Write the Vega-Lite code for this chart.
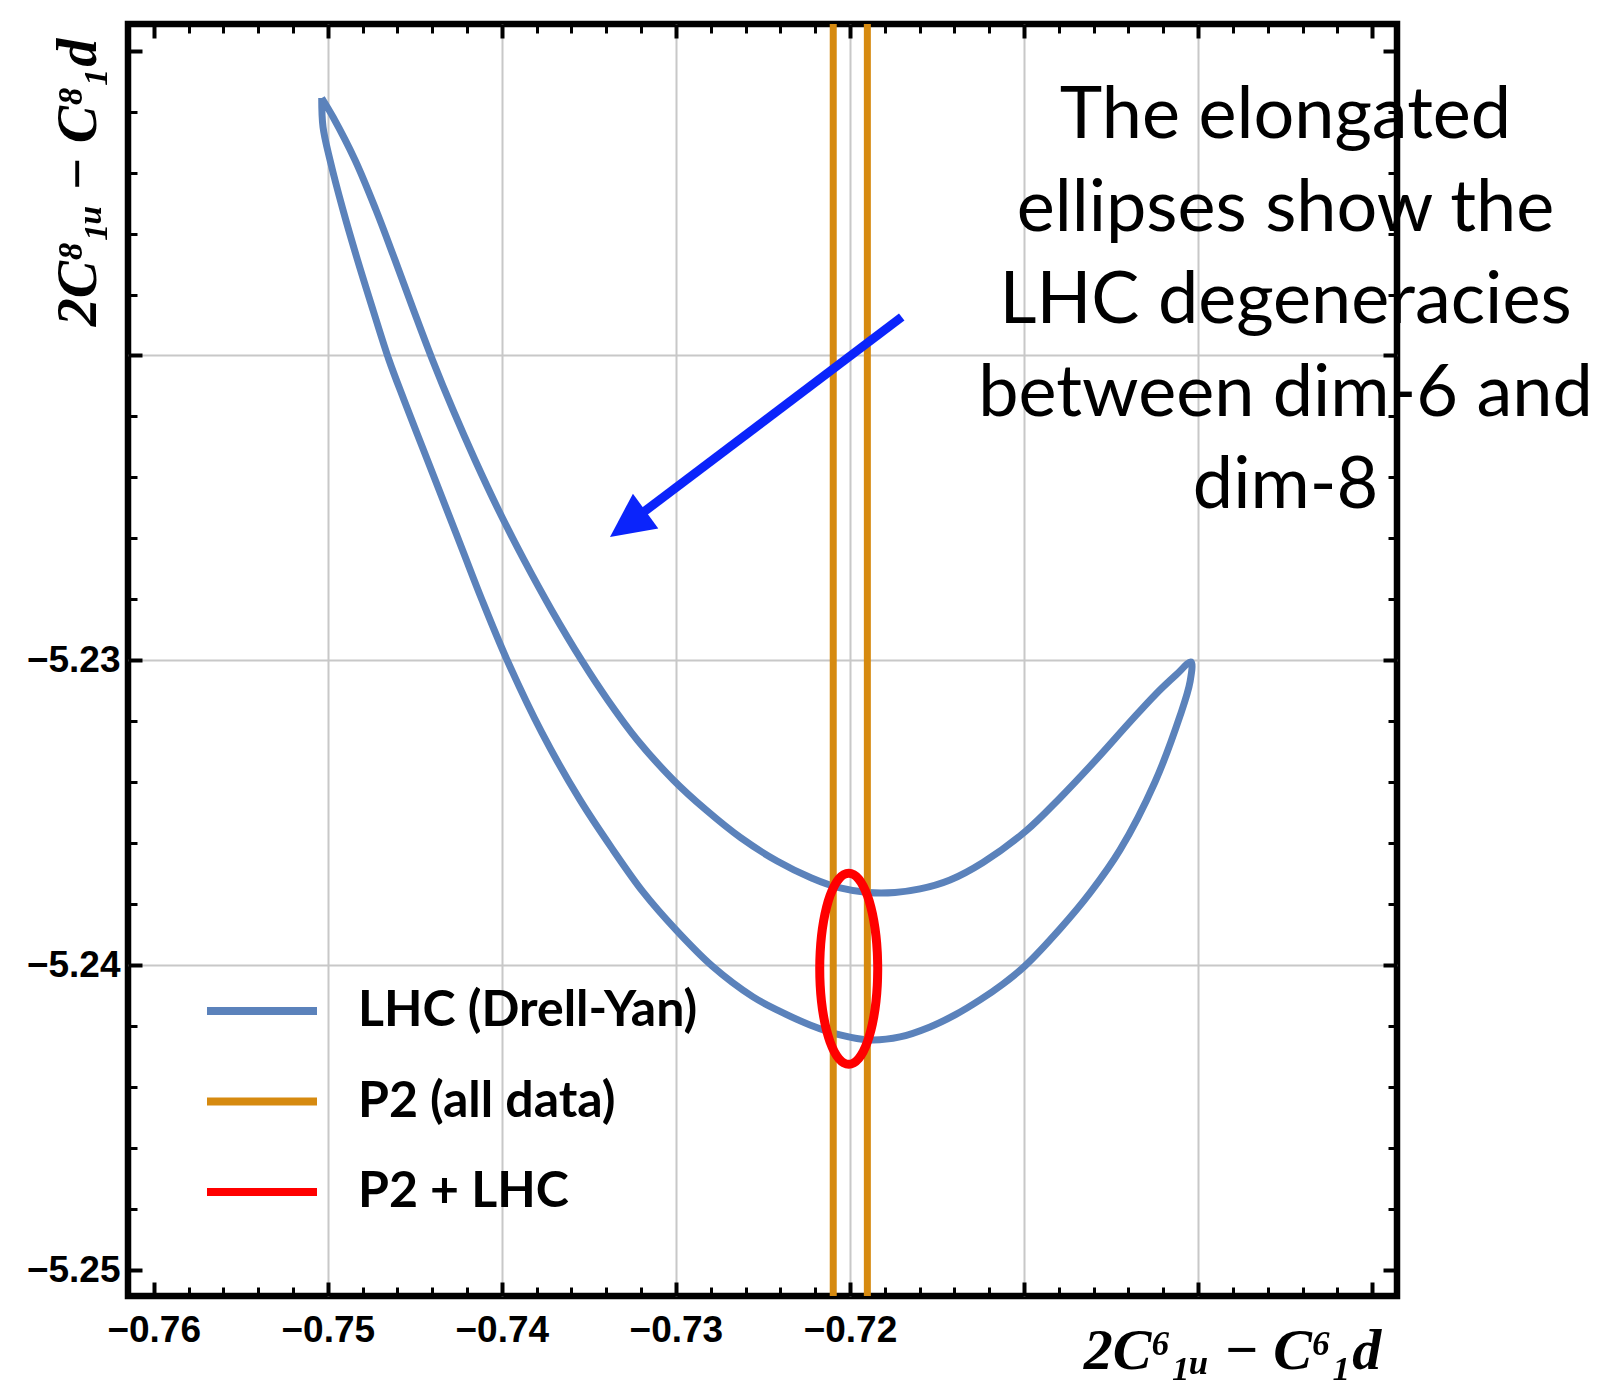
{
  "$schema": "https://vega.github.io/schema/vega-lite/v6.json",
  "width": 1269,
  "height": 1272,
  "autosize": {"type": "none"},
  "padding": {"left": 128, "top": 24, "right": 206, "bottom": 90},
  "background": "white",
  "view": {"stroke": "black", "strokeWidth": 6.5, "fill": "white"},
  "datasets": {
    "lhc": [
      {"i": 0, "x": -0.750348, "y": -5.211557, "series": "LHC (Drell-Yan)"},
      {"i": 1, "x": -0.750273, "y": -5.212508, "series": "LHC (Drell-Yan)"},
      {"i": 2, "x": -0.749871, "y": -5.213590, "series": "LHC (Drell-Yan)"},
      {"i": 3, "x": -0.749124, "y": -5.215230, "series": "LHC (Drell-Yan)"},
      {"i": 4, "x": -0.748291, "y": -5.216869, "series": "LHC (Drell-Yan)"},
      {"i": 5, "x": -0.747401, "y": -5.218508, "series": "LHC (Drell-Yan)"},
      {"i": 6, "x": -0.746482, "y": -5.220148, "series": "LHC (Drell-Yan)"},
      {"i": 7, "x": -0.745620, "y": -5.221459, "series": "LHC (Drell-Yan)"},
      {"i": 8, "x": -0.744500, "y": -5.223098, "series": "LHC (Drell-Yan)"},
      {"i": 9, "x": -0.743379, "y": -5.224738, "series": "LHC (Drell-Yan)"},
      {"i": 10, "x": -0.742259, "y": -5.226377, "series": "LHC (Drell-Yan)"},
      {"i": 11, "x": -0.741139, "y": -5.228016, "series": "LHC (Drell-Yan)"},
      {"i": 12, "x": -0.739674, "y": -5.230016, "series": "LHC (Drell-Yan)"},
      {"i": 13, "x": -0.737692, "y": -5.232377, "series": "LHC (Drell-Yan)"},
      {"i": 14, "x": -0.735508, "y": -5.234574, "series": "LHC (Drell-Yan)"},
      {"i": 15, "x": -0.733612, "y": -5.236213, "series": "LHC (Drell-Yan)"},
      {"i": 16, "x": -0.731889, "y": -5.237590, "series": "LHC (Drell-Yan)"},
      {"i": 17, "x": -0.729993, "y": -5.238836, "series": "LHC (Drell-Yan)"},
      {"i": 18, "x": -0.727925, "y": -5.240016, "series": "LHC (Drell-Yan)"},
      {"i": 19, "x": -0.725569, "y": -5.241033, "series": "LHC (Drell-Yan)"},
      {"i": 20, "x": -0.724018, "y": -5.241508, "series": "LHC (Drell-Yan)"},
      {"i": 21, "x": -0.722295, "y": -5.241951, "series": "LHC (Drell-Yan)"},
      {"i": 22, "x": -0.720571, "y": -5.242279, "series": "LHC (Drell-Yan)"},
      {"i": 23, "x": -0.718847, "y": -5.242443, "series": "LHC (Drell-Yan)"},
      {"i": 24, "x": -0.717124, "y": -5.242344, "series": "LHC (Drell-Yan)"},
      {"i": 25, "x": -0.715400, "y": -5.242016, "series": "LHC (Drell-Yan)"},
      {"i": 26, "x": -0.713964, "y": -5.241623, "series": "LHC (Drell-Yan)"},
      {"i": 27, "x": -0.712528, "y": -5.241131, "series": "LHC (Drell-Yan)"},
      {"i": 28, "x": -0.711206, "y": -5.240607, "series": "LHC (Drell-Yan)"},
      {"i": 29, "x": -0.709942, "y": -5.240016, "series": "LHC (Drell-Yan)"},
      {"i": 30, "x": -0.707932, "y": -5.238803, "series": "LHC (Drell-Yan)"},
      {"i": 31, "x": -0.706208, "y": -5.237623, "series": "LHC (Drell-Yan)"},
      {"i": 32, "x": -0.704485, "y": -5.236213, "series": "LHC (Drell-Yan)"},
      {"i": 33, "x": -0.702474, "y": -5.233984, "series": "LHC (Drell-Yan)"},
      {"i": 34, "x": -0.701038, "y": -5.231820, "series": "LHC (Drell-Yan)"},
      {"i": 35, "x": -0.700463, "y": -5.230705, "series": "LHC (Drell-Yan)"},
      {"i": 36, "x": -0.700406, "y": -5.230049, "series": "LHC (Drell-Yan)"},
      {"i": 37, "x": -0.701267, "y": -5.230475, "series": "LHC (Drell-Yan)"},
      {"i": 38, "x": -0.702474, "y": -5.231131, "series": "LHC (Drell-Yan)"},
      {"i": 39, "x": -0.703910, "y": -5.232016, "series": "LHC (Drell-Yan)"},
      {"i": 40, "x": -0.705921, "y": -5.233295, "series": "LHC (Drell-Yan)"},
      {"i": 41, "x": -0.707932, "y": -5.234508, "series": "LHC (Drell-Yan)"},
      {"i": 42, "x": -0.709885, "y": -5.235590, "series": "LHC (Drell-Yan)"},
      {"i": 43, "x": -0.712356, "y": -5.236623, "series": "LHC (Drell-Yan)"},
      {"i": 44, "x": -0.714251, "y": -5.237197, "series": "LHC (Drell-Yan)"},
      {"i": 45, "x": -0.715975, "y": -5.237492, "series": "LHC (Drell-Yan)"},
      {"i": 46, "x": -0.717411, "y": -5.237607, "series": "LHC (Drell-Yan)"},
      {"i": 47, "x": -0.718962, "y": -5.237607, "series": "LHC (Drell-Yan)"},
      {"i": 48, "x": -0.720571, "y": -5.237459, "series": "LHC (Drell-Yan)"},
      {"i": 49, "x": -0.722208, "y": -5.237131, "series": "LHC (Drell-Yan)"},
      {"i": 50, "x": -0.724190, "y": -5.236574, "series": "LHC (Drell-Yan)"},
      {"i": 51, "x": -0.726259, "y": -5.235820, "series": "LHC (Drell-Yan)"},
      {"i": 52, "x": -0.728270, "y": -5.234902, "series": "LHC (Drell-Yan)"},
      {"i": 53, "x": -0.730148, "y": -5.233918, "series": "LHC (Drell-Yan)"},
      {"i": 54, "x": -0.732216, "y": -5.232607, "series": "LHC (Drell-Yan)"},
      {"i": 55, "x": -0.733917, "y": -5.231295, "series": "LHC (Drell-Yan)"},
      {"i": 56, "x": -0.735393, "y": -5.230016, "series": "LHC (Drell-Yan)"},
      {"i": 57, "x": -0.737146, "y": -5.228344, "series": "LHC (Drell-Yan)"},
      {"i": 58, "x": -0.738726, "y": -5.226705, "series": "LHC (Drell-Yan)"},
      {"i": 59, "x": -0.740191, "y": -5.225066, "series": "LHC (Drell-Yan)"},
      {"i": 60, "x": -0.741541, "y": -5.223426, "series": "LHC (Drell-Yan)"},
      {"i": 61, "x": -0.742805, "y": -5.221787, "series": "LHC (Drell-Yan)"},
      {"i": 62, "x": -0.743983, "y": -5.220148, "series": "LHC (Drell-Yan)"},
      {"i": 63, "x": -0.745074, "y": -5.218508, "series": "LHC (Drell-Yan)"},
      {"i": 64, "x": -0.746137, "y": -5.216869, "series": "LHC (Drell-Yan)"},
      {"i": 65, "x": -0.747229, "y": -5.215230, "series": "LHC (Drell-Yan)"},
      {"i": 66, "x": -0.748435, "y": -5.213590, "series": "LHC (Drell-Yan)"},
      {"i": 67, "x": -0.749699, "y": -5.212180, "series": "LHC (Drell-Yan)"},
      {"i": 68, "x": -0.750348, "y": -5.211557, "series": "LHC (Drell-Yan)"}
    ],
    "combined": [
      {"i": 0, "x": -0.718404, "y": -5.240110, "series": "P2 + LHC"},
      {"i": 1, "x": -0.718429, "y": -5.239566, "series": "P2 + LHC"},
      {"i": 2, "x": -0.718504, "y": -5.239038, "series": "P2 + LHC"},
      {"i": 3, "x": -0.718627, "y": -5.238543, "series": "P2 + LHC"},
      {"i": 4, "x": -0.718794, "y": -5.238095, "series": "P2 + LHC"},
      {"i": 5, "x": -0.718999, "y": -5.237709, "series": "P2 + LHC"},
      {"i": 6, "x": -0.719237, "y": -5.237396, "series": "P2 + LHC"},
      {"i": 7, "x": -0.719500, "y": -5.237165, "series": "P2 + LHC"},
      {"i": 8, "x": -0.719781, "y": -5.237024, "series": "P2 + LHC"},
      {"i": 9, "x": -0.720070, "y": -5.236976, "series": "P2 + LHC"},
      {"i": 10, "x": -0.720359, "y": -5.237024, "series": "P2 + LHC"},
      {"i": 11, "x": -0.720640, "y": -5.237165, "series": "P2 + LHC"},
      {"i": 12, "x": -0.720903, "y": -5.237396, "series": "P2 + LHC"},
      {"i": 13, "x": -0.721141, "y": -5.237709, "series": "P2 + LHC"},
      {"i": 14, "x": -0.721346, "y": -5.238095, "series": "P2 + LHC"},
      {"i": 15, "x": -0.721513, "y": -5.238543, "series": "P2 + LHC"},
      {"i": 16, "x": -0.721636, "y": -5.239038, "series": "P2 + LHC"},
      {"i": 17, "x": -0.721711, "y": -5.239566, "series": "P2 + LHC"},
      {"i": 18, "x": -0.721736, "y": -5.240110, "series": "P2 + LHC"},
      {"i": 19, "x": -0.721711, "y": -5.240654, "series": "P2 + LHC"},
      {"i": 20, "x": -0.721636, "y": -5.241182, "series": "P2 + LHC"},
      {"i": 21, "x": -0.721513, "y": -5.241677, "series": "P2 + LHC"},
      {"i": 22, "x": -0.721346, "y": -5.242125, "series": "P2 + LHC"},
      {"i": 23, "x": -0.721141, "y": -5.242511, "series": "P2 + LHC"},
      {"i": 24, "x": -0.720903, "y": -5.242824, "series": "P2 + LHC"},
      {"i": 25, "x": -0.720640, "y": -5.243055, "series": "P2 + LHC"},
      {"i": 26, "x": -0.720359, "y": -5.243196, "series": "P2 + LHC"},
      {"i": 27, "x": -0.720070, "y": -5.243244, "series": "P2 + LHC"},
      {"i": 28, "x": -0.719781, "y": -5.243196, "series": "P2 + LHC"},
      {"i": 29, "x": -0.719500, "y": -5.243055, "series": "P2 + LHC"},
      {"i": 30, "x": -0.719237, "y": -5.242824, "series": "P2 + LHC"},
      {"i": 31, "x": -0.718999, "y": -5.242511, "series": "P2 + LHC"},
      {"i": 32, "x": -0.718794, "y": -5.242125, "series": "P2 + LHC"},
      {"i": 33, "x": -0.718627, "y": -5.241677, "series": "P2 + LHC"},
      {"i": 34, "x": -0.718504, "y": -5.241182, "series": "P2 + LHC"},
      {"i": 35, "x": -0.718429, "y": -5.240654, "series": "P2 + LHC"},
      {"i": 36, "x": -0.718404, "y": -5.240110, "series": "P2 + LHC"}
    ],
    "p2": [
      {"x": -0.72096, "series": "P2 (all data)"},
      {"x": -0.71900, "series": "P2 (all data)"}
    ],
    "arrow": [
      {"x": -0.717026, "y": -5.218738, "x2": -0.732762, "y2": -5.225525}
    ],
    "head": [
      {"x": -0.733785, "y": -5.225951}
    ],
    "note": [
      {"x": -0.694977, "y": -5.212869, "text": "The elongated\nellipses show the\nLHC degeneracies\nbetween dim-6 and\ndim-8"}
    ]
  },
  "layer": [
    {
      "data": {"name": "lhc"},
      "mark": {"type": "line", "strokeWidth": 7, "strokeJoin": "round", "interpolate": "catmull-rom"},
      "encoding": {
        "x": {
          "field": "x", "type": "quantitative",
          "scale": {"domain": [-0.761477, -0.688571], "nice": false, "zero": false},
          "axis": {
            "orient": "bottom",
            "values": [-0.76, -0.75, -0.74, -0.73, -0.72, -0.71, -0.70, -0.69],
            "format": ".2f",
            "labelExpr": "datum.value > -0.715 ? '' : datum.label",
            "tickSize": -14, "tickWidth": 4, "labelPadding": 30,
            "grid": true,
            "gridOpacity": {"condition": {"test": "datum.value < -0.755 || datum.value > -0.695", "value": 0}, "value": 1},
            "title": "2C⁶₁ᵤ − C⁶₁d",
            "titleFont": "Liberation Serif", "titleFontStyle": "italic", "titleFontWeight": "bold", "titleFontSize": 58,
            "titleX": 1104, "titleY": 72, "titleAlign": "center", "titleBaseline": "alphabetic", "titleAngle": 0, "titleColor": "black"
          }
        },
        "y": {
          "field": "y", "type": "quantitative",
          "scale": {"domain": [-5.25084, -5.20913], "nice": false, "zero": false},
          "axis": {
            "orient": "left",
            "values": [-5.25, -5.24, -5.23, -5.22, -5.21],
            "format": ".2f",
            "labelExpr": "datum.value > -5.225 ? '' : datum.label",
            "tickSize": -14, "tickWidth": 4, "labelPadding": 22,
            "grid": true,
            "gridOpacity": {"condition": {"test": "datum.value < -5.245 || datum.value > -5.215", "value": 0}, "value": 1},
            "title": "2C⁸₁ᵤ − C⁸₁d",
            "titleFont": "Liberation Serif", "titleFontStyle": "italic", "titleFontWeight": "bold", "titleFontSize": 56,
            "titleAngle": -90, "titleX": -33, "titleY": 158, "titleAlign": "center", "titleBaseline": "alphabetic", "titleColor": "black"
          }
        },
        "order": {"field": "i", "type": "quantitative"},
        "color": {
          "field": "series", "type": "nominal",
          "scale": {"domain": ["LHC (Drell-Yan)", "P2 (all data)", "P2 + LHC"], "range": ["#5b82bb", "#d68a10", "#ff0000"]},
          "legend": {
            "orient": "none", "legendX": 75, "legendY": 928,
            "title": null, "padding": 0, "offset": 0,
            "symbolType": "stroke", "symbolSize": 12100, "symbolStrokeWidth": 8,
            "labelFont": "Lato", "labelFontWeight": "bold", "labelFontSize": 50, "labelColor": "black",
            "labelOffset": 37, "labelLimit": 0, "rowPadding": 6.5
          }
        }
      }
    },
    {
      "data": {"name": "p2"},
      "mark": {"type": "rule", "strokeWidth": 7},
      "encoding": {
        "x": {"field": "x", "type": "quantitative", "scale": {"domain": [-0.761477, -0.688571], "nice": false, "zero": false}, "axis": null},
        "color": {"field": "series", "type": "nominal", "scale": {"domain": ["LHC (Drell-Yan)", "P2 (all data)", "P2 + LHC"], "range": ["#5b82bb", "#d68a10", "#ff0000"]}}
      }
    },
    {
      "data": {"name": "combined"},
      "mark": {"type": "line", "strokeWidth": 9, "strokeJoin": "round", "interpolate": "catmull-rom"},
      "encoding": {
        "x": {
          "field": "x", "type": "quantitative",
          "scale": {"domain": [-0.761477, -0.688571], "nice": false, "zero": false},
          "axis": {
            "orient": "bottom",
            "values": [-0.758, -0.756, -0.754, -0.752, -0.748, -0.746, -0.744, -0.742, -0.738, -0.736, -0.734, -0.732, -0.728, -0.726, -0.724, -0.722, -0.718, -0.716, -0.714, -0.712, -0.708, -0.706, -0.704, -0.702, -0.698, -0.696, -0.694, -0.692],
            "labels": false, "grid": false, "tickSize": -9, "tickWidth": 3, "title": null
          }
        },
        "y": {
          "field": "y", "type": "quantitative",
          "scale": {"domain": [-5.25084, -5.20913], "nice": false, "zero": false},
          "axis": {
            "orient": "left",
            "values": [-5.248, -5.246, -5.244, -5.242, -5.238, -5.236, -5.234, -5.232, -5.228, -5.226, -5.224, -5.222, -5.218, -5.216, -5.214, -5.212],
            "labels": false, "grid": false, "tickSize": -9, "tickWidth": 3, "title": null
          }
        },
        "order": {"field": "i", "type": "quantitative"},
        "color": {"field": "series", "type": "nominal", "scale": {"domain": ["LHC (Drell-Yan)", "P2 (all data)", "P2 + LHC"], "range": ["#5b82bb", "#d68a10", "#ff0000"]}}
      }
    },
    {
      "data": {"name": "arrow"},
      "mark": {"type": "rule", "strokeWidth": 9, "color": "#0b24fb"},
      "encoding": {
        "x": {
          "field": "x", "type": "quantitative",
          "scale": {"domain": [-0.761477, -0.688571], "nice": false, "zero": false},
          "axis": {
            "orient": "top",
            "values": [-0.76, -0.75, -0.74, -0.73, -0.72, -0.71, -0.70, -0.69],
            "labels": false, "grid": false, "tickSize": -14, "tickWidth": 4, "title": null
          }
        },
        "y": {
          "field": "y", "type": "quantitative",
          "scale": {"domain": [-5.25084, -5.20913], "nice": false, "zero": false},
          "axis": {
            "orient": "right",
            "values": [-5.25, -5.24, -5.23, -5.22, -5.21],
            "labels": false, "grid": false, "tickSize": -14, "tickWidth": 4, "title": null
          }
        },
        "x2": {"field": "x2"},
        "y2": {"field": "y2"}
      }
    },
    {
      "data": {"name": "head"},
      "mark": {"type": "point", "filled": true, "color": "#0b24fb", "opacity": 1, "strokeWidth": 0, "shape": "M0,0L0.49,1L-0.49,1Z", "size": 7744, "angle": 234},
      "encoding": {
        "x": {
          "field": "x", "type": "quantitative",
          "scale": {"domain": [-0.761477, -0.688571], "nice": false, "zero": false},
          "axis": {
            "orient": "top",
            "values": [-0.758, -0.756, -0.754, -0.752, -0.748, -0.746, -0.744, -0.742, -0.738, -0.736, -0.734, -0.732, -0.728, -0.726, -0.724, -0.722, -0.718, -0.716, -0.714, -0.712, -0.708, -0.706, -0.704, -0.702, -0.698, -0.696, -0.694, -0.692],
            "labels": false, "grid": false, "tickSize": -9, "tickWidth": 3, "title": null
          }
        },
        "y": {
          "field": "y", "type": "quantitative",
          "scale": {"domain": [-5.25084, -5.20913], "nice": false, "zero": false},
          "axis": {
            "orient": "right",
            "values": [-5.248, -5.246, -5.244, -5.242, -5.238, -5.236, -5.234, -5.232, -5.228, -5.226, -5.224, -5.222, -5.218, -5.216, -5.214, -5.212],
            "labels": false, "grid": false, "tickSize": -9, "tickWidth": 3, "title": null
          }
        }
      }
    },
    {
      "data": {"name": "note"},
      "mark": {"type": "text", "font": "Lato", "fontSize": 72, "align": "center", "baseline": "alphabetic", "lineHeight": 92.5, "lineBreak": "\n", "color": "black"},
      "encoding": {
        "x": {"field": "x", "type": "quantitative", "scale": {"domain": [-0.761477, -0.688571], "nice": false, "zero": false}, "axis": null},
        "y": {"field": "y", "type": "quantitative", "scale": {"domain": [-5.25084, -5.20913], "nice": false, "zero": false}, "axis": null},
        "text": {"field": "text", "type": "nominal"}
      }
    }
  ],
  "resolve": {"axis": {"x": "independent", "y": "independent"}},
  "config": {
    "axis": {
      "domain": false,
      "tickColor": "black",
      "labelColor": "black",
      "labelFont": "Liberation Sans",
      "labelFontWeight": "bold",
      "labelFontSize": 37,
      "gridColor": "#c8c8c8",
      "gridWidth": 2,
      "labelFlush": false,
      "labelOverlap": false,
      "labelBound": false
    }
  }
}
